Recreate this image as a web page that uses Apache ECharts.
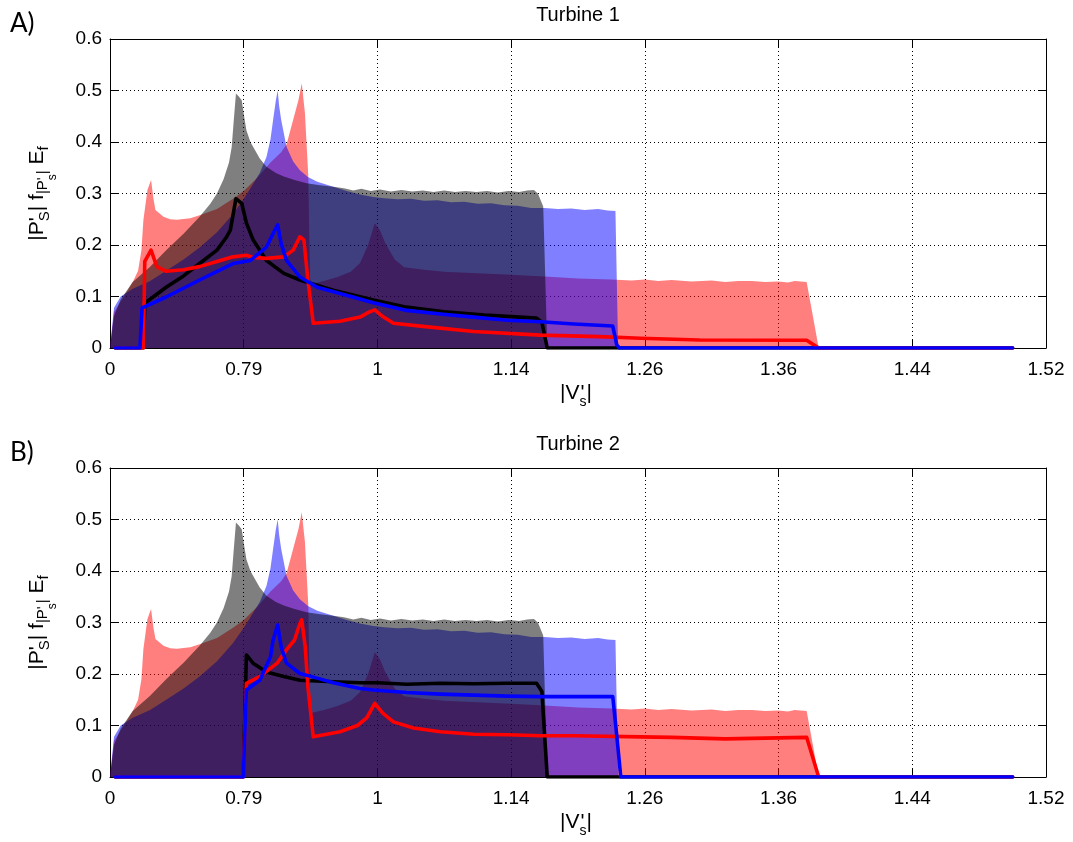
<!DOCTYPE html>
<html>
<head>
<meta charset="utf-8">
<script src="https://cdn.jsdelivr.net/npm/echarts@6/dist/echarts.min.js"></script>
<style>
  html, body { margin: 0; padding: 0; background: #fff; }
  #chart { width: 1073px; height: 842px; }
</style>
</head>
<body>
<div id="chart"></div>
<script>
// Horizontal positions are given in tick slots: slot k sits under tickLabels[k].
const tickLabels = ['0', '0.79', '1', '1.14', '1.26', '1.36', '1.44', '1.52'];
const panelTitles = ['Turbine 1', 'Turbine 2'];
const panelTags = ['A)', 'B)'];

// Shaded envelopes (identical in both panels)
const fillBlack = [
  [0, 0], [0.03, 0.062], [0.08, 0.094], [0.17, 0.128], [0.3, 0.158], [0.42, 0.19], [0.55, 0.222],
  [0.67, 0.255], [0.75, 0.28], [0.8, 0.3], [0.85, 0.328], [0.89, 0.36], [0.91, 0.39], [0.925, 0.44],
  [0.942, 0.494], [0.965, 0.488], [0.985, 0.481], [1.0, 0.455], [1.02, 0.423], [1.05, 0.4],
  [1.07, 0.391], [1.12, 0.368], [1.17, 0.352], [1.24, 0.34], [1.3, 0.333], [1.38, 0.326],
  [1.47, 0.32], [1.57, 0.316], [1.67, 0.313], [1.75, 0.31], [1.82, 0.306], [1.88, 0.309],
  [1.95, 0.305], [2.02, 0.308], [2.1, 0.304], [2.18, 0.307], [2.26, 0.304], [2.34, 0.306],
  [2.42, 0.303], [2.5, 0.306], [2.58, 0.303], [2.66, 0.305], [2.74, 0.303], [2.82, 0.305],
  [2.9, 0.302], [2.98, 0.305], [3.06, 0.303], [3.12, 0.306], [3.17, 0.307], [3.2, 0.3],
  [3.24, 0.275], [3.27, 0]
];
const fillBlue = [
  [0, 0], [0.03, 0.078], [0.08, 0.1], [0.17, 0.115], [0.3, 0.13], [0.42, 0.15], [0.55, 0.172],
  [0.67, 0.195], [0.8, 0.225], [0.92, 0.26], [1.0, 0.29], [1.05, 0.31], [1.12, 0.34], [1.17, 0.371],
  [1.2, 0.405], [1.22, 0.443], [1.24, 0.48], [1.254, 0.5], [1.265, 0.47], [1.28, 0.443],
  [1.32, 0.391], [1.37, 0.362], [1.42, 0.345], [1.48, 0.332], [1.55, 0.323], [1.67, 0.313],
  [1.77, 0.305], [1.87, 0.298], [1.97, 0.293], [2.05, 0.291], [2.15, 0.289], [2.25, 0.29],
  [2.35, 0.286], [2.45, 0.287], [2.55, 0.283], [2.65, 0.284], [2.75, 0.28], [2.85, 0.281],
  [2.95, 0.277], [3.05, 0.276], [3.15, 0.272], [3.25, 0.272], [3.35, 0.27], [3.45, 0.271],
  [3.55, 0.268], [3.65, 0.27], [3.72, 0.267], [3.78, 0.266], [3.8, 0]
];
const fillRed = [
  [0, 0], [0.03, 0.07], [0.1, 0.098], [0.174, 0.13], [0.21, 0.15], [0.235, 0.19], [0.25, 0.249],
  [0.28, 0.307], [0.307, 0.326], [0.325, 0.29], [0.34, 0.268], [0.4, 0.255], [0.45, 0.25],
  [0.5, 0.249], [0.6, 0.252], [0.67, 0.258], [0.8, 0.27], [0.92, 0.29], [1.0, 0.305], [1.1, 0.33],
  [1.2, 0.36], [1.28, 0.38], [1.32, 0.395], [1.37, 0.443], [1.41, 0.482], [1.434, 0.514],
  [1.458, 0.456], [1.483, 0.333], [1.496, 0.135], [1.51, 0.125], [1.6, 0.13], [1.7, 0.138],
  [1.8, 0.148], [1.87, 0.165], [1.93, 0.2], [1.98, 0.242], [2.02, 0.228], [2.06, 0.203],
  [2.13, 0.172], [2.2, 0.157], [2.35, 0.152], [2.5, 0.148], [2.75, 0.145], [3.0, 0.142],
  [3.25, 0.139], [3.5, 0.135], [3.75, 0.133], [3.9, 0.131], [4.0, 0.133], [4.1, 0.13],
  [4.2, 0.132], [4.35, 0.129], [4.5, 0.131], [4.6, 0.128], [4.7, 0.13], [4.8, 0.13], [4.9, 0.128],
  [5.0, 0.129], [5.07, 0.127], [5.12, 0.13], [5.21, 0.128], [5.3, 0]
];

// Turbine 1 curves
const lineBlackA = [
  [0.04, 0], [0.25, 0], [0.26, 0.087], [0.42, 0.118], [0.55, 0.14], [0.67, 0.164], [0.8, 0.19],
  [0.87, 0.215], [0.9, 0.229], [0.942, 0.29], [0.985, 0.281], [1.02, 0.243], [1.07, 0.21],
  [1.17, 0.17], [1.3, 0.145], [1.42, 0.132], [1.67, 0.112], [1.97, 0.093], [2.2, 0.08],
  [2.5, 0.0705], [2.8, 0.064], [3.0, 0.061], [3.19, 0.058], [3.23, 0.05], [3.27, 0], [6.75, 0]
];
const lineRedA = [
  [0.04, 0], [0.25, 0], [0.26, 0.168], [0.307, 0.19], [0.35, 0.158], [0.42, 0.149], [0.55, 0.152],
  [0.67, 0.158], [0.8, 0.168], [0.92, 0.177], [1.02, 0.18], [1.07, 0.176], [1.17, 0.174],
  [1.3, 0.177], [1.37, 0.19], [1.42, 0.216], [1.45, 0.21], [1.48, 0.132], [1.52, 0.048],
  [1.72, 0.052], [1.87, 0.06], [1.94, 0.07], [1.98, 0.074], [2.04, 0.061], [2.12, 0.048],
  [2.34, 0.042], [2.72, 0.032], [3.22, 0.025], [3.66, 0.022], [3.97, 0.019], [4.41, 0.0155],
  [5.21, 0.015], [5.3, 0], [6.75, 0]
];
const lineBlueA = [
  [0.04, 0], [0.224, 0], [0.24, 0.078], [0.42, 0.099], [0.67, 0.132], [0.92, 0.164], [1.05, 0.17],
  [1.17, 0.196], [1.22, 0.222], [1.254, 0.239], [1.28, 0.203], [1.32, 0.17], [1.42, 0.138],
  [1.55, 0.118], [1.72, 0.106], [1.97, 0.088], [2.22, 0.073], [2.47, 0.066], [2.72, 0.06],
  [2.97, 0.054], [3.22, 0.051], [3.47, 0.0466], [3.76, 0.0427], [3.79, 0.006], [3.81, 0], [6.75, 0]
];

// Turbine 2 curves
const lineBlackB = [
  [0.04, 0], [0.997, 0], [1.02, 0.237], [1.07, 0.221], [1.17, 0.204], [1.3, 0.195], [1.42, 0.188],
  [1.67, 0.185], [1.87, 0.183], [2.0, 0.183], [2.22, 0.18], [2.47, 0.182], [2.72, 0.181],
  [2.97, 0.182], [3.19, 0.182], [3.23, 0.166], [3.27, 0], [6.75, 0]
];
const lineRedB = [
  [0.04, 0], [0.997, 0], [1.02, 0.182], [1.12, 0.195], [1.25, 0.221], [1.32, 0.247], [1.38, 0.266],
  [1.42, 0.298], [1.434, 0.305], [1.46, 0.253], [1.48, 0.175], [1.52, 0.078], [1.72, 0.088],
  [1.85, 0.1], [1.92, 0.115], [1.98, 0.143], [2.04, 0.124], [2.12, 0.107], [2.27, 0.095],
  [2.47, 0.088], [2.72, 0.083], [2.97, 0.082], [3.22, 0.08], [3.47, 0.08], [3.97, 0.078],
  [4.2, 0.077], [4.6, 0.074], [5.0, 0.076], [5.21, 0.077], [5.3, 0], [6.75, 0]
];
const lineBlueB = [
  [0.04, 0], [0.997, 0], [1.02, 0.169], [1.12, 0.188], [1.2, 0.233], [1.22, 0.266], [1.254, 0.295],
  [1.28, 0.253], [1.32, 0.221], [1.42, 0.201], [1.55, 0.192], [1.67, 0.183], [1.87, 0.172],
  [1.97, 0.169], [2.22, 0.164], [2.47, 0.161], [2.72, 0.159], [2.97, 0.157], [3.22, 0.156],
  [3.47, 0.156], [3.76, 0.156], [3.79, 0.08], [3.82, 0], [6.75, 0]
];

const panelLines = [
  { black: lineBlackA, red: lineRedA, blue: lineBlueA },
  { black: lineBlackB, red: lineRedB, blue: lineBlueB }
];

const FONT = '"Liberation Sans", Arial, sans-serif';
const grids = [
  { left: 110, top: 39, width: 936, height: 309 },
  { left: 110, top: 468, width: 936, height: 309 }
];

const measure = (() => {
  const ctx = document.createElement('canvas').getContext('2d');
  return (t, s) => { ctx.font = s + 'px ' + FONT; return ctx.measureText(t).width; };
})();

// Lays out a run of text columns with sub/superscript offsets, centred on (ox, oy).
// Pieces in one column share the same start, so a prime and a subscript stack.
function textRun(cols, ox, oy, rotation) {
  let x = 0;
  const kids = [];
  cols.forEach(col => {
    let w = 0;
    col.forEach(p => {
      kids.push({
        type: 'text', x: x + (p.dx || 0), y: (p.dy || 0) - 0.33 * p.s,
        style: {
          text: p.t, fill: '#000', font: p.s + 'px ' + FONT,
          textAlign: 'left', align: 'left', textVerticalAlign: 'middle', verticalAlign: 'middle'
        }
      });
      w = Math.max(w, measure(p.t, p.s) + (p.dx || 0));
    });
    x += w;
  });
  kids.forEach(k => { k.x -= x / 2; });
  return { type: 'group', x: ox, y: oy, rotation: rotation || 0, children: kids };
}

const xAxes = [], yAxes = [], series = [], graphics = [];

grids.forEach((g, i) => {
  const boxLine = { show: true, onZero: false, lineStyle: { color: '#000', width: 1 } };
  const inTick = { show: true, inside: true, length: 8, lineStyle: { color: '#000', width: 1 } };
  const dotted = { show: true, lineStyle: { color: '#000', width: 1, type: [1, 3] } };

  xAxes.push({
    type: 'value', gridIndex: i, min: 0, max: 7, interval: 1, position: 'bottom',
    axisLine: boxLine, axisTick: inTick, splitLine: dotted,
    axisLabel: {
      formatter: v => tickLabels[Math.round(v)], color: '#000',
      fontSize: 19, fontFamily: FONT, margin: 12
    }
  });
  xAxes.push({
    type: 'value', gridIndex: i, min: 0, max: 7, interval: 1, position: 'top',
    axisLine: boxLine, axisTick: inTick, splitLine: { show: false }, axisLabel: { show: false }
  });
  yAxes.push({
    type: 'value', gridIndex: i, min: 0, max: 0.6, interval: 0.1, position: 'left',
    axisLine: boxLine, axisTick: inTick, splitLine: dotted,
    axisLabel: {
      formatter: v => String(+v.toFixed(1)), color: '#000',
      fontSize: 19, fontFamily: FONT, margin: 8
    }
  });
  yAxes.push({
    type: 'value', gridIndex: i, min: 0, max: 0.6, interval: 0.1, position: 'right',
    axisLine: boxLine, axisTick: inTick, splitLine: { show: false }, axisLabel: { show: false }
  });

  const xi = i * 2, yi = i * 2;
  const fill = (data, color) => ({
    type: 'line', xAxisIndex: xi, yAxisIndex: yi, data, symbol: 'none', z: 2,
    lineStyle: { width: 0, opacity: 0 }, areaStyle: { color, opacity: 0.5 }, silent: true
  });
  const curve = (data, color) => ({
    type: 'line', xAxisIndex: xi, yAxisIndex: yi, data, symbol: 'none', z: 3,
    lineStyle: { width: 3.6, color, join: 'round', cap: 'round' }, silent: true
  });
  series.push(fill(fillRed, '#ff0000'));
  series.push(fill(fillBlue, '#0000ff'));
  series.push(fill(fillBlack, '#000000'));
  const L = panelLines[i];
  series.push(curve(L.black, '#000000'));
  series.push(curve(L.red, '#ff0000'));
  series.push(curve(L.blue, '#0000ff'));

  const cx = g.left + g.width / 2;
  const cy = g.top + g.height / 2;

  // panel title
  graphics.push({
    type: 'text', x: cx, y: g.top - 24,
    style: { text: panelTitles[i], fill: '#000', font: '20px ' + FONT,
      textAlign: 'center', align: 'center', textVerticalAlign: 'middle', verticalAlign: 'middle' }
  });
  // panel tag
  graphics.push({
    type: 'text', x: 10, y: g.top - 15,
    style: { text: panelTags[i], fill: '#000', font: '26px Lato, "Open Sans", sans-serif',
      textAlign: 'left', align: 'left', textVerticalAlign: 'middle', verticalAlign: 'middle' }
  });
  // x-axis title |V_s'|
  graphics.push(textRun([
    [{ t: '|V', s: 21 }],
    [{ t: 's', s: 14, dy: 7 }, { t: "'", s: 21, dx: 1 }],
    [{ t: '|', s: 21 }]
  ], cx - 2, g.top + g.height + 52));
  // y-axis title |P'_S| f_{|P'_s|} E_f
  graphics.push(textRun([
    [{ t: '|P', s: 21 }],
    [{ t: "'", s: 21 }, { t: 'S', s: 15, dy: 6 }],
    [{ t: '| f', s: 21 }],
    [{ t: '|P', s: 15, dy: 4 }],
    [{ t: "'", s: 15, dy: 4 }, { t: 's', s: 12, dy: 13 }],
    [{ t: '|', s: 15, dy: 4 }],
    [{ t: ' E', s: 21 }],
    [{ t: 'f', s: 15, dy: 5 }]
  ], 44, cy, Math.PI / 2));
});

const chart = echarts.init(document.getElementById('chart'), null, { renderer: 'canvas' });
chart.setOption({
  animation: false,
  backgroundColor: '#fff',
  grid: grids,
  xAxis: xAxes,
  yAxis: yAxes,
  series,
  graphic: graphics
});
</script>
</body>
</html>
